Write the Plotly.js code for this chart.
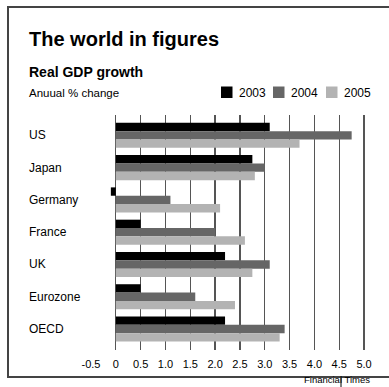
<!DOCTYPE html>
<html>
<head>
<meta charset="utf-8">
<script src="https://cdn.plot.ly/plotly-3.0.1.min.js"></script>
<style>
html,body{margin:0;padding:0;background:#fff;}
#chart{width:389px;height:387px;}
</style>
</head>
<body>
<div id="chart"></div>
<script>
// ---- data ----
const categories = ['US', 'Japan', 'Germany', 'France', 'UK', 'Eurozone', 'OECD'];
const years = ['2003', '2004', '2005'];
const growth2003 = [3.1, 2.75, -0.1, 0.5, 2.2, 0.5, 2.2];
const growth2004 = [4.75, 3.0, 1.1, 2.0, 3.1, 1.6, 3.4];
const growth2005 = [3.7, 2.8, 2.1, 2.6, 2.75, 2.4, 3.3];
const tickValues = [-0.5, 0, 0.5, 1.0, 1.5, 2.0, 2.5, 3.0, 3.5, 4.0, 4.5, 5.0];
const tickLabels = ['-0.5', '0', '0.5', '1.0', '1.5', '2.0', '2.5', '3.0', '3.5', '4.0', '4.5', '5.0'];
const titleText = 'The world in figures';
const subtitleText = 'Real GDP growth';
const unitText = 'Anuual % change';
const sourceText = 'Financial Times';

// ---- styling / layout ----
const W = 389, H = 387;
const M = {l: 90, r: 15, t: 115, b: 37};
const PW = W - M.l - M.r, PH = H - M.t - M.b;
const px = x => (x - M.l) / PW;          // pixel -> paper x
const py = y => (H - M.b - y) / PH;      // pixel -> paper y
const colors = ['#000000', '#666666', '#b3b3b3'];
const font = 'Liberation Sans, Arial, Helvetica, sans-serif';

const series = [growth2003, growth2004, growth2005];
const traces = series.map((vals, i) => ({
  type: 'bar',
  orientation: 'h',
  name: years[i],
  y: categories,
  x: vals,
  marker: {color: colors[i], line: {width: 0}},
  hoverinfo: 'x+y+name'
}));

const annotations = [
  {text: titleText, x: px(27), y: py(39), xanchor: 'left', yanchor: 'middle',
   font: {family: font, size: 20, color: '#000', weight: 'bold'}},
  {text: subtitleText, x: px(27), y: py(72), xanchor: 'left', yanchor: 'middle',
   font: {family: font, size: 14, color: '#000', weight: 'bold'}},
  {text: unitText, x: px(27), y: py(92.5), xanchor: 'left', yanchor: 'middle',
   font: {family: font, size: 11.5, color: '#000'}},
  {text: sourceText, x: px(302), y: py(387), xanchor: 'left', yanchor: 'bottom',
   font: {family: font, size: 9.5, color: '#000'}}
].map(a => Object.assign({xref: 'paper', yref: 'paper', showarrow: false}, a));

// category labels, left-aligned
categories.forEach(c => annotations.push({
  text: c, xref: 'paper', yref: 'y', x: px(27), y: c, xanchor: 'left', yanchor: 'middle',
  showarrow: false, font: {family: font, size: 12, color: '#000'}
}));

// manual legend
const legendX = [221, 273, 326];
const shapes = [];
years.forEach((yr, i) => {
  shapes.push({type: 'rect', xref: 'paper', yref: 'paper',
    x0: px(legendX[i]), x1: px(legendX[i] + 11.5), y0: py(86.5), y1: py(98),
    fillcolor: colors[i], line: {width: 0}});
  annotations.push({text: yr, xref: 'paper', yref: 'paper', x: px(legendX[i] + 16), y: py(92.5),
    xanchor: 'left', yanchor: 'middle', showarrow: false,
    font: {family: font, size: 12, color: '#000'}});
});

// frame
shapes.push({type: 'line', xref: 'paper', yref: 'paper', x0: px(8), x1: px(8), y0: py(7), y1: py(377), line: {color: '#444', width: 2}});
shapes.push({type: 'line', xref: 'paper', yref: 'paper', x0: px(7), x1: px(395), y0: py(7), y1: py(7), line: {color: '#444', width: 2}});
shapes.push({type: 'line', xref: 'paper', yref: 'paper', x0: px(7), x1: px(395), y0: py(377), y1: py(377), line: {color: '#444', width: 2}});
shapes.push({type: 'line', xref: 'paper', yref: 'paper', x0: px(341), x1: px(341), y0: py(378), y1: py(390), line: {color: '#000', width: 1}});

const layout = {
  width: W, height: H,
  margin: M,
  paper_bgcolor: '#fff', plot_bgcolor: '#fff',
  showlegend: false,
  barmode: 'group',
  bargap: 0.225,
  bargroupgap: 0,
  font: {family: font, size: 11, color: '#000'},
  xaxis: {
    range: [-0.52, 5.2],
    tickvals: tickValues, ticktext: tickLabels,
    showgrid: true, gridcolor: '#555', gridwidth: 1.3,
    zeroline: true, zerolinecolor: '#555', zerolinewidth: 1.3,
    showline: false, ticks: '',
    ticklabelstandoff: 6,
    tickfont: {family: font, size: 11, color: '#000'},
    fixedrange: true
  },
  yaxis: {
    type: 'category',
    categoryorder: 'array', categoryarray: categories,
    range: [6.65, -0.63],
    showticklabels: false, showgrid: false, zeroline: false, showline: false, ticks: '',
    fixedrange: true
  },
  annotations: annotations,
  shapes: shapes
};

Plotly.newPlot('chart', traces, layout, {displayModeBar: false, staticPlot: true});
</script>
</body>
</html>
